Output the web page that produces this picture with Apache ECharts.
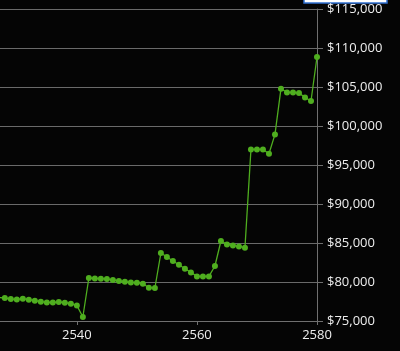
<!DOCTYPE html>
<html><head><meta charset="utf-8">
<script src="https://cdn.jsdelivr.net/npm/echarts@6/dist/echarts.min.js"></script>
<style>html,body{margin:0;padding:0;background:#050505}#c{width:400px;height:351px}</style>
</head><body><div id="c"></div>
<script>
const periods = [2527,2528,2529,2530,2531,2532,2533,2534,2535,2536,2537,2538,2539,2540,2541,2542,2543,2544,2545,2546,2547,2548,2549,2550,2551,2552,2553,2554,2555,2556,2557,2558,2559,2560,2561,2562,2563,2564,2565,2566,2567,2568,2569,2570,2571,2572,2573,2574,2575,2576,2577,2578,2579,2580];
const values = [78000,77949,77821,77769,77859,77731,77603,77474,77385,77385,77436,77346,77218,77000,75513,80513,80462,80423,80385,80256,80128,80038,79949,79910,79782,79269,79231,83718,83205,82692,82218,81705,81231,80718,80718,80718,82051,85256,84821,84692,84564,84397,97000,97000,97000,96449,98923,104782,104308,104308,104231,103667,103205,108846];
const xTicks = [2540,2560,2580];
const yTicks = [75000,80000,85000,90000,95000,100000,105000,110000,115000];

const chart = echarts.init(document.getElementById('c'), null, {renderer:'canvas'});
const font = '"Open Sans", sans-serif';
chart.setOption({
  backgroundColor:'#050505',
  animation:false,
  grid:{left:0,right:83,top:9,bottom:30,containLabel:false},
  xAxis:{type:'value',min:2527.2,max:2580,
    axisLine:{show:true,lineStyle:{color:'#707070',width:1}},
    axisTick:{show:true,length:4,customValues:xTicks,lineStyle:{color:'#707070'}},
    axisLabel:{customValues:xTicks,color:'#eeeeee',fontSize:13,fontFamily:font,margin:8,
      formatter:v=>String(v)},
    splitLine:{show:false}},
  yAxis:{type:'value',position:'right',min:75000,max:115000,interval:5000,
    axisLine:{show:true,lineStyle:{color:'#707070',width:1}},
    axisTick:{show:true,length:6,lineStyle:{color:'#707070'}},
    axisLabel:{color:'#eeeeee',fontSize:13,fontFamily:font,margin:10,
      formatter:v=>'$'+v.toLocaleString('en-US')},
    splitLine:{show:true,lineStyle:{color:'#6a6a6a',width:1}}},
  series:[{type:'line',data:periods.map((p,i)=>[p,values[i]]),
    symbol:'circle',symbolSize:6,showAllSymbol:true,clip:true,
    itemStyle:{color:'#4fae1f'},lineStyle:{color:'#4fae1f',width:1.3}}],
  graphic:[{type:'rect',shape:{x:304,y:-10,width:83,height:13},
    style:{fill:'#ffffff',stroke:'#2f6fd0',lineWidth:1.5}}]
});
</script></body></html>
